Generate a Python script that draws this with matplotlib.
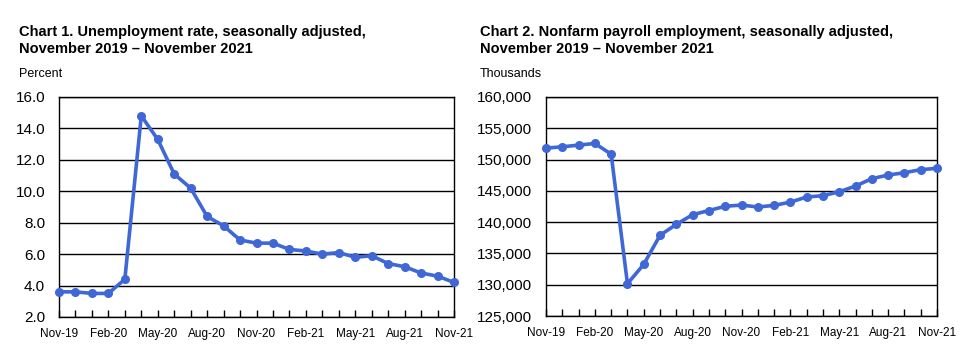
import matplotlib
matplotlib.use("Agg")
import matplotlib.pyplot as plt
from matplotlib.ticker import MultipleLocator, FuncFormatter

plt.rcParams['font.family'] = ['Liberation Sans', 'DejaVu Sans']

## data
months = ['Nov-19', 'Dec-19', 'Jan-20', 'Feb-20', 'Mar-20', 'Apr-20', 'May-20', 'Jun-20',
          'Jul-20', 'Aug-20', 'Sep-20', 'Oct-20', 'Nov-20', 'Dec-20', 'Jan-21', 'Feb-21',
          'Mar-21', 'Apr-21', 'May-21', 'Jun-21', 'Jul-21', 'Aug-21', 'Sep-21', 'Oct-21',
          'Nov-21']
unemployment = [3.6, 3.6, 3.5, 3.5, 4.4, 14.8, 13.3, 11.1, 10.2, 8.4, 7.8, 6.9, 6.7,
                6.7, 6.3, 6.2, 6.0, 6.1, 5.8, 5.9, 5.4, 5.2, 4.8, 4.6, 4.2]
payroll = [151830, 152040, 152310, 152580, 150860, 130160, 133250, 137900, 139650,
           141190, 141860, 142530, 142730, 142420, 142680, 143200, 144020, 144230,
           144850, 145770, 146950, 147530, 147900, 148390, 148600]

titles = ['Chart 1. Unemployment rate, seasonally adjusted,\nNovember 2019 \u2013 November 2021',
          'Chart 2. Nonfarm payroll employment, seasonally adjusted,\nNovember 2019 \u2013 November 2021']
units = ['Percent', 'Thousands']

blue = '#3F67D6'

fig = plt.figure(figsize=(9.72, 3.6), dpi=100)
W, H = 972, 360

def make_axes(left, right, top, bottom):
    return fig.add_axes([left / W, 1 - bottom / H, (right - left) / W, (bottom - top) / H])

ax1 = make_axes(59, 454, 97, 317)
ax2 = make_axes(546, 937, 97, 316)

x = list(range(len(months)))

for ax, vals, title, unit, tx in [(ax1, unemployment, titles[0], units[0], 19),
                                   (ax2, payroll, titles[1], units[1], 480)]:
    ax.plot(x, vals, color=blue, lw=2.6, marker='o', ms=5.5, clip_on=False, zorder=3)
    ax.set_xlim(0, len(months) - 1)
    ax.set_xticks(x[::3])
    ax.set_xticklabels(months[::3], fontsize=8.5)
    ax.xaxis.set_minor_locator(MultipleLocator(1))
    ax.tick_params(axis='x', which='both', direction='in', length=5, width=1, pad=8)
    ax.tick_params(axis='y', length=0, pad=10, labelsize=11)
    ax.grid(axis='y', color='black', lw=1)
    ax.set_axisbelow(True)
    for s in ax.spines.values():
        s.set_linewidth(1)
    fig.text(tx / W, 1 - 25 / H, title, fontsize=10.5, fontweight='bold', va='top',
             linespacing=1.3)
    fig.text(tx / W, 1 - 68 / H, unit, fontsize=9, va='top')

ax1.set_ylim(2, 16)
ax1.yaxis.set_major_locator(MultipleLocator(2))
ax1.yaxis.set_major_formatter(FuncFormatter(lambda v, p: f'{v:.1f}'))

ax2.set_ylim(125000, 160000)
ax2.yaxis.set_major_locator(MultipleLocator(5000))
ax2.yaxis.set_major_formatter(FuncFormatter(lambda v, p: f'{v:,.0f}'))

fig.savefig('out.png', dpi=100)
